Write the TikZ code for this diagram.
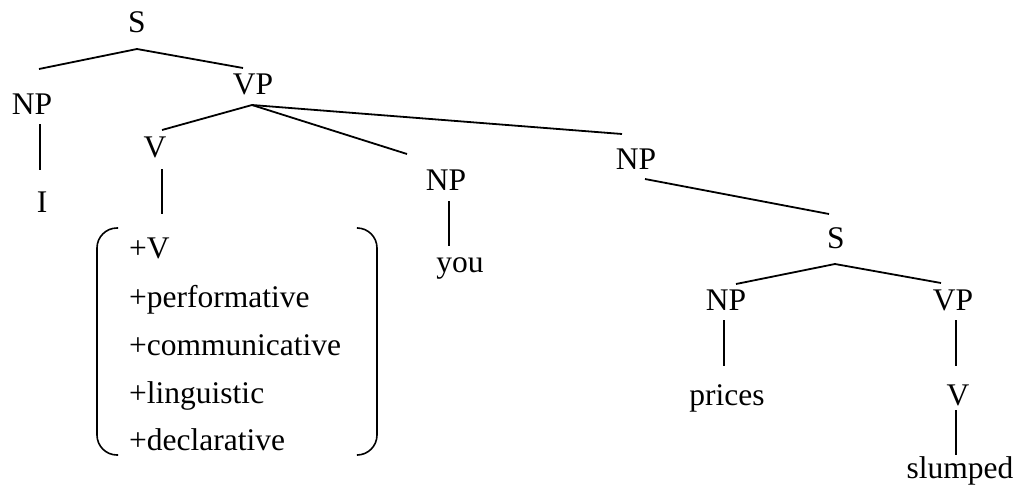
\documentclass[tikz,border=0pt]{standalone}
\usepackage{fontspec}
\setmainfont{Liberation Serif}
\usetikzlibrary{calc}
\begin{document}
\begin{tikzpicture}[x=1pt,y=-1pt,
  lab/.style={font=\fontsize{31.5}{38}\selectfont, inner sep=0pt, anchor=base},
  feat/.style={font=\fontsize{31.5}{38}\selectfont, inner sep=0pt, anchor=base west},
  edge/.style={line width=1.8pt, line cap=butt}]
\useasboundingbox (0,0) rectangle (1021,488);
% nodes
\node[lab] (S1) at (137,32.5) {S};
\node[lab] (NP1) at (32,114) {NP};
\node[lab] (VP1) at (253,94) {VP};
\node[lab] (I) at (42,212) {I};
\node[lab] (V1) at (155,157) {V};
\node[lab] (NP2) at (446,190) {NP};
\node[lab] (you) at (460,272) {you};
\node[lab] (NP3) at (636,169) {NP};
\node[lab] (S2) at (836,248) {S};
\node[lab] (NP4) at (726,310) {NP};
\node[lab] (VP2) at (953,310) {VP};
\node[lab] (prices) at (727,405) {prices};
\node[lab] (V2) at (958,405) {V};
\node[lab] (slumped) at (960,478) {slumped};
% feature matrix
\node[feat] (f1) at (129,258) {+V};
\node[feat] (f2) at (129,307) {+performative};
\node[feat] (f3) at (129,355) {+communicative};
\node[feat] (f4) at (129,403) {+linguistic};
\node[feat] (f5) at (129,450) {+declarative};
\coordinate (ftop) at ($(V1.base)+(7,57)$);
\draw[line width=1.6pt, rounded corners=20pt] (118,228) -- (97,228) -- (97,455) -- (118,455);
\draw[line width=1.6pt, rounded corners=20pt] (358,228) -- (377,228) -- (377,455) -- (358,455);
% edges
\draw[edge] ($(S1.base)+(0,16.5)$) -- ($(NP1.base)+(7,-45)$);
\draw[edge] ($(S1.base)+(0,16.5)$) -- ($(VP1.base)+(-10,-26)$);
\draw[edge] ($(NP1.base)+(8,10)$) -- ($(I.base)+(-2,-42)$);
\draw[edge] ($(VP1.base)+(-1,11)$) -- ($(V1.base)+(7,-27)$);
\draw[edge] ($(VP1.base)+(-1,11)$) -- ($(NP2.base)+(-39,-36)$);
\draw[edge] ($(VP1.base)+(-1,11)$) -- ($(NP3.base)+(-14,-35)$);
\draw[edge] ($(V1.base)+(7,12)$) -- (ftop);
\draw[edge] ($(NP2.base)+(3,11)$) -- ($(you.base)+(-11,-26)$);
\draw[edge] ($(NP3.base)+(9,10)$) -- ($(S2.base)+(-7,-34)$);
\draw[edge] ($(S2.base)+(-1,16)$) -- ($(NP4.base)+(10,-26)$);
\draw[edge] ($(S2.base)+(-1,16)$) -- ($(VP2.base)+(-12,-27)$);
\draw[edge] ($(NP4.base)+(-2,10)$) -- ($(prices.base)+(-3,-39)$);
\draw[edge] ($(VP2.base)+(3,10)$) -- ($(V2.base)+(-2,-39)$);
\draw[edge] ($(V2.base)+(-2,5)$) -- ($(slumped.base)+(-4,-23)$);
\end{tikzpicture}
\end{document}
